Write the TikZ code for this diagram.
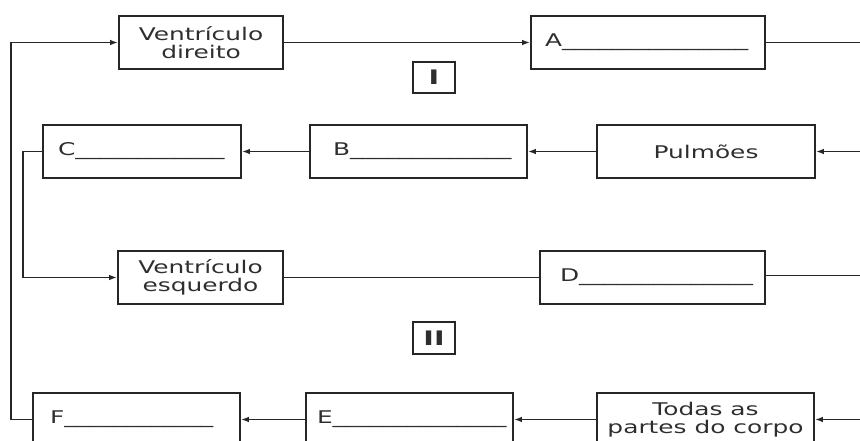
\documentclass[tikz,border=0pt]{standalone}
\usepackage{fontspec}
\newfontfamily\lab[FakeStretch=1.42]{DejaVu Sans}
\usetikzlibrary{arrows.meta}
\begin{document}
\begin{tikzpicture}[x=1pt,y=-1pt,
  box/.style={draw=black!85, line width=1.6pt, inner sep=0pt, minimum height=53pt,
    font=\lab\fontsize{17.5}{18}\selectfont, text=black!82},
  cbox/.style={box, align=center},
  ubox/.style={box, align=left, inner ysep=0pt},
  rbox/.style={draw=black!85, line width=1.6pt, inner sep=0pt,
    font=\lab\bfseries\fontsize{20}{20}\selectfont, text=black!82},
  conn/.style={draw=black!85, line width=1.6pt},
  arr/.style={conn, -{Latex[length=8pt,width=5.5pt]}}]
\useasboundingbox (0,0) rectangle (860,441);
\clip (0,0) rectangle (860,441);
% row 1
\node[cbox, minimum width=164pt] (VD) at (201,42.5) {Ventrículo\\direito};
\node[ubox, inner xsep=14pt, text width=206pt, minimum width=234pt] (A) at (648,42.5)
  {A\_\_\_\_\_\_\_\_\_\_\_\_\_\_\_};
\node[rbox, minimum width=42pt, minimum height=31pt] (I) at (434,77.5) {I};
% row 2
\node[ubox, inner xsep=15pt, text width=168pt, minimum width=198pt] (C) at (142,151.5)
  {C\_\_\_\_\_\_\_\_\_\_\_\_};
\node[ubox, inner xsep=23pt, text width=171pt, minimum width=217pt] (B) at (418.5,151.5)
  {B\_\_\_\_\_\_\_\_\_\_\_\_\_};
\node[cbox, minimum width=218pt] (P) at (706,151.5) {Pulmões};
% row 3
\node[cbox, minimum width=165pt] (VE) at (200.5,277.5) {Ventrículo\\esquerdo};
\node[ubox, inner xsep=20pt, text width=185pt, minimum width=225pt] (D) at (652.5,277.5)
  {D\_\_\_\_\_\_\_\_\_\_\_\_\_\_};
\node[rbox, minimum width=42pt, minimum height=32pt] (II) at (434,338) {II};
% row 4
\node[ubox, inner xsep=17pt, text width=173pt, minimum width=207pt] (F) at (136.5,419.5)
  {F\_\_\_\_\_\_\_\_\_\_\_\_};
\node[ubox, inner xsep=11pt, text width=185pt, minimum width=207pt] (E) at (409.5,419.5)
  {E\_\_\_\_\_\_\_\_\_\_\_\_\_\_};
\node[cbox, minimum width=217pt] (T) at (705.5,419.5) {Todas as\\partes do corpo};
% free ends
\coordinate (eA) at (860,42.5);
\coordinate (eP) at (860,151.5);
\coordinate (eD) at (860,275.5);
\coordinate (eT) at (860,419.5);
% connectors
\draw[arr] (VD.east) -- (A.west);
\draw[conn] (A.east) -- (eA);
\draw[arr] (eP) -- (P.east);
\draw[arr] (P.west) -- (B.east);
\draw[arr] (B.west) -- (C.east);
\draw[arr] (C.west) -- ++(-19,0) |- (VE.west);
\draw[conn] (VE.east) -- (D.west);
\draw[conn] (D.east |- eD) -- (eD);
\draw[arr] (eT) -- (T.east);
\draw[arr] (T.west) -- (E.east);
\draw[arr] (E.west) -- (F.east);
\draw[arr] (F.west) -- ++(-21,0) |- (VD.west);
\end{tikzpicture}
\end{document}
